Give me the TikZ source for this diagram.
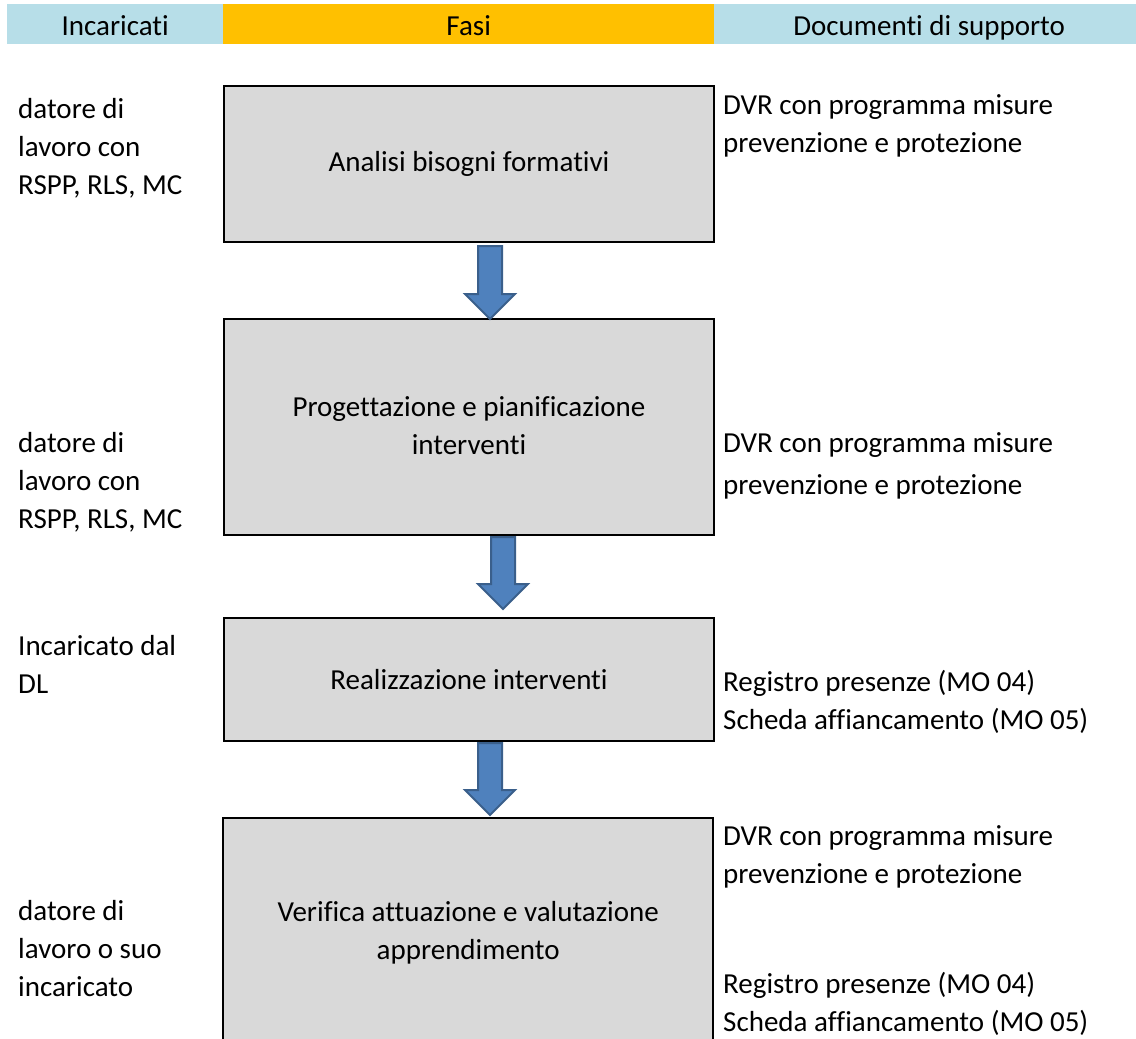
\documentclass[tikz,border=0pt]{standalone}
\usepackage{fontspec}
\setmainfont{Carlito}[Ligatures={NoCommon}]
\definecolor{hdrblue}{HTML}{B7DEE8}
\definecolor{hdryel}{HTML}{FFC000}
\definecolor{boxgray}{HTML}{D9D9D9}
\definecolor{arrfill}{HTML}{4F81BD}
\definecolor{arrline}{HTML}{3A5F8B}
\begin{document}
\begin{tikzpicture}[x=1pt,y=-1pt,
  every node/.style={font=\fontsize{29}{38}\selectfont},
  hdr/.style={inner sep=0pt, anchor=north west, text height=22pt, text depth=0pt},
  phase/.style={draw=black, line width=2pt, fill=boxgray, inner sep=0pt, anchor=north west, minimum width=490pt, align=center},
  lefttext/.style={anchor=base west, align=left, inner sep=0pt},
  righttext/.style={anchor=base west, align=left, inner sep=0pt},
  blockarrow/.pic={
    \path[fill=arrfill, draw=arrline, line width=2pt, line join=miter]
      (-12,0) -- (12,0) -- (12,#1-26) -- (25,#1-26) -- (0,#1-1) -- (-25,#1-26) -- (-12,#1-26) -- cycle;
  }
]
\useasboundingbox (0,0) rectangle (1136,1039);
% header
\node[hdr, fill=hdrblue, minimum width=216pt, minimum height=40pt] (h1) at (7,4) {Incaricati};
\node[hdr, fill=hdryel, minimum width=491pt, minimum height=40pt] (h2) at (223,4) {Fasi};
\node[hdr, fill=hdrblue, minimum width=430pt, minimum height=40pt] (h3) at (714,4) {Documenti di supporto};
% phases
\node[phase, minimum height=156pt] (b1) at (223,85) {Analisi bisogni formativi};
\node[phase, minimum height=216pt, text depth=2pt] (b2) at (223,318) {Progettazione e pianificazione\\interventi};
\node[phase, minimum height=123pt] (b3) at (223,617) {Realizzazione interventi};
\node[draw=none, fill=boxgray, inner sep=0pt, anchor=north west, minimum width=490pt, minimum height=230pt, align=center] (b4) at (223,818) {Verifica attuazione e valutazione\\apprendimento};
\draw[line width=2pt] (b4.south west) -- (b4.north west) -- (b4.north east) -- (b4.south east);
% arrows
\pic at ([xshift=21pt,yshift=-3pt]b1.south) {blockarrow=74};
\pic at ([xshift=34pt,yshift=-1pt]b2.south) {blockarrow=73};
\pic at ([xshift=21pt,yshift=-1pt]b3.south) {blockarrow=73};
% left column (anchor = baseline of last line)
\node[lefttext] (l1) at (18,194) {datore di\\lavoro con\\RSPP, RLS, MC};
\node[lefttext] (l2) at (18,528) {datore di\\lavoro con\\RSPP, RLS, MC};
\node[lefttext] (l3) at (18,693) {Incaricato dal\\DL};
\node[lefttext] (l4) at (18,996) {datore di\\lavoro o suo\\incaricato};
% right column
\node[righttext] (r1) at (723,152) {DVR con programma misure\\prevenzione e protezione};
\node[righttext] (r2a) at (723,452) {DVR con programma misure};
\node[righttext] (r2b) at (723,494) {prevenzione e protezione};
\node[righttext] (r3) at (723,729) {Registro presenze (MO 04)\\Scheda affiancamento (MO 05)};
\node[righttext] (r4a) at (723,883) {DVR con programma misure\\prevenzione e protezione};
\node[righttext] (r4b) at (723,1031) {Registro presenze (MO 04)\\Scheda affiancamento (MO 05)};
\end{tikzpicture}
\end{document}
